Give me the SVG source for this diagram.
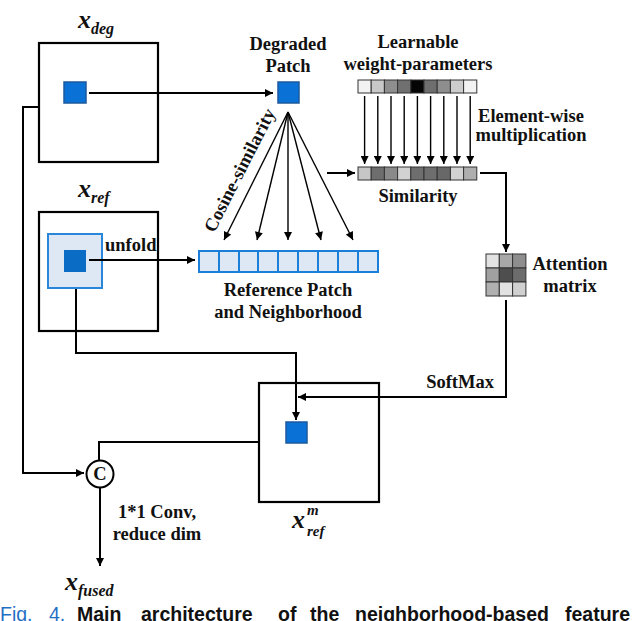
<svg xmlns="http://www.w3.org/2000/svg" width="640" height="621" viewBox="0 0 640 621">
<defs>
<marker id="ah" viewBox="0 0 10 10" refX="10" refY="5" markerWidth="9" markerHeight="8" markerUnits="userSpaceOnUse" orient="auto">
<path d="M0,0 L10,5 L0,10 z" fill="#000"/>
</marker>
</defs>
<style>
.lbl{font-family:"Liberation Serif","Times New Roman",serif;font-weight:bold;font-size:18.5px;fill:#111;}
.mx{font-family:"Liberation Serif","Times New Roman",serif;font-style:italic;font-weight:bold;fill:#111;}
.box{fill:#fff;stroke:#000;stroke-width:2.2;}
.patch{fill:#0a72d6;stroke:#1d5a9c;stroke-width:1.5;}
.cell{stroke:#1a7fd8;stroke-width:2;fill:#dde8f4;}
.gcell{stroke:#333;stroke-width:1;}
.con{fill:none;stroke:#000;stroke-width:2;}
.fan{fill:none;stroke:#000;stroke-width:1.4;}
.cap{font-family:"Liberation Sans",Arial,sans-serif;font-size:19.5px;}
</style>

<!-- x_deg -->
<g id="x_deg">
<rect class="box" x="39" y="43" width="119" height="119"/>
<rect class="patch" x="64" y="82" width="22" height="21"/>
<text class="mx" x="78" y="28" font-size="26">x<tspan font-size="16" dy="6">deg</tspan></text>
</g>

<!-- degraded patch -->
<g id="degraded_patch">
<rect class="patch" x="278" y="82" width="21" height="21"/>
<text class="lbl" x="288" y="50" text-anchor="middle">Degraded</text>
<text class="lbl" x="288" y="72" text-anchor="middle">Patch</text>
</g>

<!-- x_ref -->
<g id="x_ref">
<rect class="box" x="39" y="212" width="119" height="119"/>
<rect x="48" y="234" width="54" height="54" fill="#dde8f4" stroke="#2a86d8" stroke-width="2"/>
<rect x="64" y="250" width="22" height="22" fill="#0a6cc4"/>
<text class="mx" x="78" y="197" font-size="26">x<tspan font-size="16" dy="6">ref</tspan></text>
<text class="lbl" x="105" y="251">unfold</text>
</g>

<!-- reference patch bar -->
<g id="ref_bar">
<rect class="cell" x="199" y="251" width="20" height="21"/>
<rect class="cell" x="219" y="251" width="20" height="21"/>
<rect class="cell" x="239" y="251" width="19" height="21"/>
<rect class="cell" x="258" y="251" width="20" height="21"/>
<rect class="cell" x="278" y="251" width="20" height="21" fill="#0a6cc4"/>
<rect class="cell" x="298" y="251" width="20" height="21"/>
<rect class="cell" x="318" y="251" width="20" height="21"/>
<rect class="cell" x="338" y="251" width="20" height="21"/>
<rect class="cell" x="358" y="251" width="20" height="21"/>
<text class="lbl" x="288" y="296" text-anchor="middle">Reference Patch</text>
<text class="lbl" x="288" y="318" text-anchor="middle">and Neighborhood</text>
</g>

<!-- learnable weights -->
<g id="weights">
<rect class="gcell" x="358" y="80" width="13.2" height="13" fill="#f2f2f2"/>
<rect class="gcell" x="371.2" y="80" width="13.2" height="13" fill="#c8c8c8"/>
<rect class="gcell" x="384.4" y="80" width="13.2" height="13" fill="#8e8e8e"/>
<rect class="gcell" x="397.6" y="80" width="13.2" height="13" fill="#707070"/>
<rect class="gcell" x="410.8" y="80" width="13.2" height="13" fill="#050505"/>
<rect class="gcell" x="424" y="80" width="13.2" height="13" fill="#6e6e6e"/>
<rect class="gcell" x="437.2" y="80" width="13.2" height="13" fill="#8e8e8e"/>
<rect class="gcell" x="450.4" y="80" width="13.2" height="13" fill="#cdcdcd"/>
<rect class="gcell" x="463.6" y="80" width="13.2" height="13" fill="#f2f2f2"/>
<text class="lbl" x="418" y="48" text-anchor="middle">Learnable</text>
<text class="lbl" x="418" y="70" text-anchor="middle">weight-parameters</text>
<text class="lbl" x="531" y="122" text-anchor="middle" font-size="14.5">Element-wise</text>
<text class="lbl" x="531" y="141" text-anchor="middle" font-size="14.5">multiplication</text>
</g>

<!-- similarity -->
<g id="similarity">
<rect class="gcell" x="358" y="167" width="13.2" height="13" fill="#c6c6c6"/>
<rect class="gcell" x="371.2" y="167" width="13.2" height="13" fill="#6e6e6e"/>
<rect class="gcell" x="384.4" y="167" width="13.2" height="13" fill="#8a8a8a"/>
<rect class="gcell" x="397.6" y="167" width="13.2" height="13" fill="#d2d2d2"/>
<rect class="gcell" x="410.8" y="167" width="13.2" height="13" fill="#6e6e6e"/>
<rect class="gcell" x="424" y="167" width="13.2" height="13" fill="#6e6e6e"/>
<rect class="gcell" x="437.2" y="167" width="13.2" height="13" fill="#686868"/>
<rect class="gcell" x="450.4" y="167" width="13.2" height="13" fill="#d2d2d2"/>
<rect class="gcell" x="463.6" y="167" width="13.2" height="13" fill="#aeaeae"/>
<text class="lbl" x="418" y="202" text-anchor="middle">Similarity</text>
</g>

<!-- attention matrix -->
<g id="attention">
<rect class="gcell" x="486" y="254" width="13.3" height="14" fill="#e2e2e2"/>
<rect class="gcell" x="499.3" y="254" width="13.3" height="14" fill="#a8a8a8"/>
<rect class="gcell" x="512.6" y="254" width="13.3" height="14" fill="#8e8e8e"/>
<rect class="gcell" x="486" y="268" width="13.3" height="14" fill="#a0a0a0"/>
<rect class="gcell" x="499.3" y="268" width="13.3" height="14" fill="#4e4e4e"/>
<rect class="gcell" x="512.6" y="268" width="13.3" height="14" fill="#6c6c6c"/>
<rect class="gcell" x="486" y="282" width="13.3" height="14" fill="#b0b0b0"/>
<rect class="gcell" x="499.3" y="282" width="13.3" height="14" fill="#e2e2e2"/>
<rect class="gcell" x="512.6" y="282" width="13.3" height="14" fill="#d0d0d0"/>
<text class="lbl" x="570" y="270" text-anchor="middle">Attention</text>
<text class="lbl" x="570" y="292" text-anchor="middle">matrix</text>
</g>

<!-- x_ref^m -->
<g id="x_ref_m">
<rect class="box" x="259" y="383" width="120" height="119"/>
<rect class="patch" x="286" y="422" width="21" height="21"/>
<text class="mx" x="292" y="528" font-size="26">x</text>
<text class="mx" x="307" y="515" font-size="15">m</text>
<text class="mx" x="307" y="536" font-size="15">ref</text>
</g>

<!-- concat -->
<g id="concat">
<circle cx="100" cy="474" r="13.5" fill="#fff" stroke="#000" stroke-width="2"/>
<text class="lbl" x="100" y="480" text-anchor="middle" font-size="18">C</text>
</g>

<!-- output -->
<g id="x_fused">
<text class="mx" x="65" y="590" font-size="26">x<tspan font-size="16" dy="6">fused</tspan></text>
</g>

<g id="labels">
<text class="lbl" x="494" y="388" text-anchor="end" font-size="17">SoftMax</text>
<text class="lbl" x="157" y="518" text-anchor="middle" font-size="17">1*1 Conv,</text>
<text class="lbl" x="157" y="540" text-anchor="middle" font-size="17">reduce dim</text>
<text class="lbl" transform="translate(245,173) rotate(-63)" text-anchor="middle" font-size="16">Cosine-similarity</text>
</g>

<!-- connectors -->
<g id="connectors">
<path class="con" d="M89,93 H273" marker-end="url(#ah)"/>
<path class="con" d="M89,260 H195" marker-end="url(#ah)"/>
<path class="fan" d="M288,112 L224,240" marker-end="url(#ah)"/>
<path class="fan" d="M288,112 L257,240" marker-end="url(#ah)"/>
<path class="fan" d="M288,112 L288,240" marker-end="url(#ah)"/>
<path class="fan" d="M288,112 L321,240" marker-end="url(#ah)"/>
<path class="fan" d="M288,112 L353,240" marker-end="url(#ah)"/>
<path class="fan" d="M364.6,96 V164" marker-end="url(#ah)"/>
<path class="fan" d="M377.8,96 V164" marker-end="url(#ah)"/>
<path class="fan" d="M391,96 V164" marker-end="url(#ah)"/>
<path class="fan" d="M404.2,96 V164" marker-end="url(#ah)"/>
<path class="fan" d="M417.4,96 V164" marker-end="url(#ah)"/>
<path class="fan" d="M430.6,96 V164" marker-end="url(#ah)"/>
<path class="fan" d="M443.8,96 V164" marker-end="url(#ah)"/>
<path class="fan" d="M457,96 V164" marker-end="url(#ah)"/>
<path class="fan" d="M470.2,96 V164" marker-end="url(#ah)"/>
<path class="con" d="M327,173 H355" marker-end="url(#ah)"/>
<path class="con" d="M480,173 H506 V252" marker-end="url(#ah)"/>
<path class="con" d="M506,300 V397 H298" marker-end="url(#ah)"/>
<path class="con" d="M76,289 V353 H296 V420" marker-end="url(#ah)"/>
<path class="con" d="M39,107 H23 V473 H84" marker-end="url(#ah)"/>
<path class="con" d="M259,442 H99 V460"/>
<path class="con" d="M100,488 V566" marker-end="url(#ah)"/>
</g>

<!-- caption (cut off at bottom edge, as in the reference) -->
<g id="caption">
<text class="cap" x="0" y="621" fill="#1f6fc5">Fig.</text>
<text class="cap" x="49" y="621" fill="#1f6fc5">4.</text>
<text class="cap" x="77" y="621" font-weight="bold" fill="#111">Main</text>
<text class="cap" x="141" y="621" font-weight="bold" fill="#111">architecture</text>
<text class="cap" x="278" y="621" font-weight="bold" fill="#111">of</text>
<text class="cap" x="310" y="621" font-weight="bold" fill="#111">the</text>
<text class="cap" x="355" y="621" font-weight="bold" fill="#111">neighborhood-based</text>
<text class="cap" x="565" y="621" font-weight="bold" fill="#111">feature</text>
</g>
</svg>
